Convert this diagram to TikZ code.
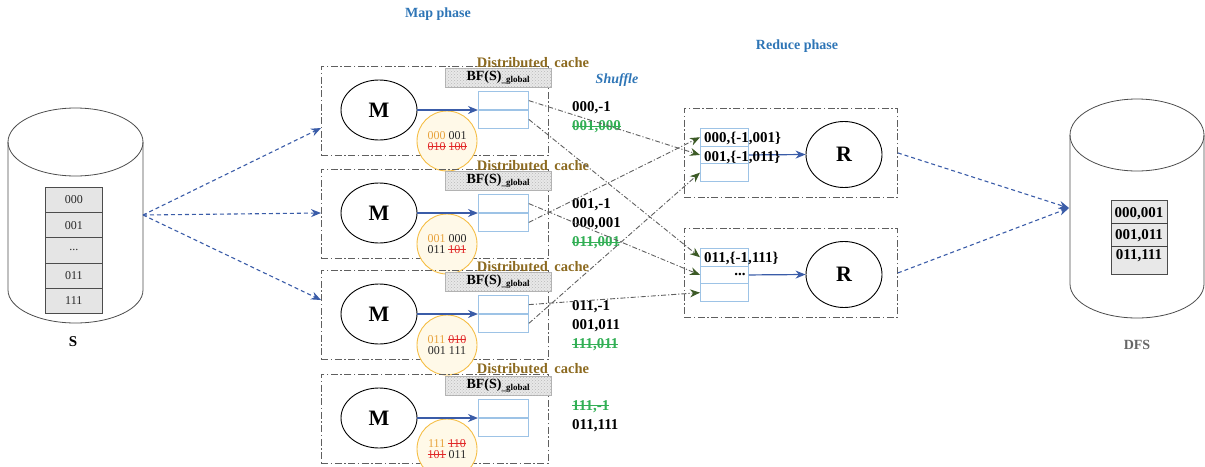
\documentclass[tikz,border=0pt]{standalone}
\usepackage{fontspec}
\setmainfont{Liberation Serif}
\usetikzlibrary{shapes.geometric,arrows.meta,patterns}

\definecolor{phaseblue}{RGB}{46,117,182}
\definecolor{cachebrown}{RGB}{140,106,32}
\definecolor{arrblue}{RGB}{58,92,168}
\definecolor{cellblue}{RGB}{157,195,230}
\definecolor{shgreen}{RGB}{60,90,38}
\definecolor{strkgreen}{RGB}{50,175,85}
\definecolor{strkred}{RGB}{225,40,40}
\definecolor{numorange}{RGB}{232,163,61}
\definecolor{circorange}{RGB}{245,190,70}
\definecolor{circfill}{RGB}{255,249,232}
\definecolor{boxgray}{RGB}{95,95,95}
\definecolor{darktxt}{RGB}{40,40,40}

\newsavebox\strkbox
\newcommand\mystrk[2]{{\color{#1}\sbox\strkbox{#2}\rlap{\raisebox{0.3em}{\rule{\wd\strkbox}{0.8pt}}}\usebox\strkbox}}
\newcommand\gstrk[1]{\mystrk{strkgreen}{#1}}
\newcommand\rstrk[1]{\mystrk{strkred}{#1}}
\newcommand\onum[1]{{\color{numorange}#1}}
\newcommand\bfsub{\raisebox{-2.5pt}{\fontsize{9}{9}\selectfont\_global}}

\begin{document}
\begin{tikzpicture}[x=1pt,y=-1pt,
  mapbox/.style={draw=boxgray, line width=0.9pt, dash pattern=on 7pt off 2.5pt on 1.5pt off 2.5pt, inner sep=0pt},
  mcirc/.style={ellipse, draw=black, line width=0.9pt, fill=white, minimum width=76pt, minimum height=60pt, inner sep=0pt, font=\fontsize{22}{22}\selectfont\bfseries},
  rcirc/.style={mcirc, minimum height=66pt},
  bfbox/.style={draw=gray!60, fill=gray!18, postaction={pattern=crosshatch dots, pattern color=gray!55}, minimum width=106pt, minimum height=19pt, inner sep=0pt, font=\fontsize{14}{14}\selectfont\bfseries},
  cachelbl/.style={text=cachebrown, font=\fontsize{14.5}{14.5}\selectfont\bfseries, inner sep=0pt},
  cell/.style={draw=cellblue, line width=0.8pt, minimum width=50pt, minimum height=18pt, inner sep=0pt},
  rcell/.style={cell, minimum width=48pt, minimum height=17.7pt},
  ocirc/.style={circle, draw=circorange, line width=0.9pt, fill=circfill, minimum size=60pt, inner sep=0pt, align=center, text=darktxt, font=\fontsize{12}{11}\selectfont},
  shtxt/.style={anchor=west, inner sep=0pt, font=\fontsize{15}{15}\selectfont\bfseries},
  redtxt/.style={anchor=west, inner sep=0pt, font=\fontsize{15}{15}\selectfont\bfseries},
  phase/.style={text=phaseblue, inner sep=0pt, font=\fontsize{14}{14}\selectfont\bfseries},
  scell/.style={draw=gray!60!black, fill=gray!20, line width=0.6pt, minimum width=57pt, minimum height=25.2pt, inner sep=0pt, font=\fontsize{12}{12}\selectfont, text=darktxt},
  marrow/.style={draw=arrblue, line width=1.2pt, -{Stealth[length=10pt,width=8pt]}},
  barrow/.style={draw=arrblue, line width=1.1pt, dash pattern=on 4pt off 3pt, -{Stealth[length=10pt,width=8pt]}},
  sharrow/.style={draw=gray!75!black, line width=0.9pt, dash pattern=on 5pt off 2pt on 1.2pt off 2pt, -{Stealth[length=10pt,width=8pt,color=shgreen,fill=shgreen]}},
  cyl/.style={draw=gray!60!black, line width=0.8pt}
]
\useasboundingbox (0,0) rectangle (1205,466);

% ---------- phase labels ----------
\node[phase] (mapph) at (438,14) {Map phase};
\node[phase] (redph) at (797,46) {Reduce phase};
\node[phase, font=\fontsize{14}{14}\selectfont\bfseries\itshape] (shuf) at (617,80) {Shuffle};

% ---------- S cylinder ----------
\draw[cyl] (8,142) -- (8,290) .. controls (8,308.2) and (38.22,323) .. (75.5,323) .. controls (112.78,323) and (143,308.2) .. (143,290) -- (143,142);
\draw[cyl] (75.5,142) ellipse [x radius=67.5, y radius=34];
\node[scell, anchor=north west] (s1) at (45,187) {000};
\node[scell, anchor=north west] (s2) at (45,212.2) {001};
\node[scell, anchor=north west] (s3) at (45,237.4) {...};
\node[scell, anchor=north west] (s4) at (45,262.6) {011};
\node[scell, anchor=north west] (s5) at (45,287.8) {111};
\node[inner sep=0pt, font=\fontsize{15}{15}\selectfont\bfseries] (slbl) at (73,342) {S};
\coordinate (sout) at (143,215);

% ---------- DFS cylinder ----------
\draw[cyl] (1070,135) -- (1070,284) .. controls (1070,302.8) and (1100,318) .. (1137,318) .. controls (1174,318) and (1204,302.8) .. (1204,284) -- (1204,135);
\draw[cyl] (1137,135) ellipse [x radius=67, y radius=36];
\node[draw=gray!60!black, fill=gray!18, line width=0.6pt, minimum width=56pt, minimum height=74pt, inner sep=0pt, anchor=north west] (dfst) at (1111,200) {};
\draw[gray!50!black, line width=0.7pt] (dfst.west |- 0,223) -- (dfst.east |- 0,223);
\draw[gray!50!black, line width=0.7pt] (dfst.west |- 0,246) -- (dfst.east |- 0,246);
\node[inner sep=0pt, font=\fontsize{15}{15}\selectfont\bfseries] (d1) at (1139,214) {000,001};
\node[inner sep=0pt, font=\fontsize{15}{15}\selectfont\bfseries] (d2) at (1139,236) {001,011};
\node[inner sep=0pt, font=\fontsize{15}{15}\selectfont\bfseries] (d3) at (1139,256) {011,111};
\node[inner sep=0pt, text=gray!80!black, font=\fontsize{14}{14}\selectfont\bfseries] (dfslbl) at (1137,345) {DFS};
\coordinate (dfsin) at (1069,208);

% ---------- Map boxes ----------
% box 1 (T=66)
\node[mapbox, minimum width=227pt, minimum height=89pt, anchor=north west] (mb1) at (321,66) {};
\node[bfbox] (bf1) at (498,77.5) {BF(S)\bfsub};
\node[mcirc] (m1) at (379,110) {M};
\node[cell, anchor=south west] (c1a) at (478,110) {};
\node[cell, anchor=north west] (c1b) at (478,110) {};
\node[ocirc] (o1) at (447,141) {\onum{000} 001\\\rstrk{010} \rstrk{100}};
\draw[marrow] (m1.east) -- (c1a.south west);
% box 2 (T=169)
\node[mapbox, minimum width=227pt, minimum height=89pt, anchor=north west] (mb2) at (321,169) {};
\node[bfbox] (bf2) at (498,180.5) {BF(S)\bfsub};
\node[mcirc] (m2) at (379,213) {M};
\node[cell, anchor=south west] (c2a) at (478,213) {};
\node[cell, anchor=north west] (c2b) at (478,213) {};
\node[ocirc] (o2) at (447,244) {\onum{001} 000\\011 \rstrk{101}};
\draw[marrow] (m2.east) -- (c2a.south west);
% box 3 (T=270)
\node[mapbox, minimum width=227pt, minimum height=89pt, anchor=north west] (mb3) at (321,270) {};
\node[bfbox] (bf3) at (498,281.5) {BF(S)\bfsub};
\node[mcirc] (m3) at (379,314) {M};
\node[cell, anchor=south west] (c3a) at (478,314) {};
\node[cell, anchor=north west] (c3b) at (478,314) {};
\node[ocirc] (o3) at (447,345) {\onum{011} \rstrk{010}\\001 111};
\draw[marrow] (m3.east) -- (c3a.south west);
% box 4 (T=374)
\node[mapbox, minimum width=227pt, minimum height=89pt, anchor=north west] (mb4) at (321,374) {};
\node[bfbox] (bf4) at (498,385.5) {BF(S)\bfsub};
\node[mcirc] (m4) at (379,418) {M};
\node[cell, anchor=south west] (c4a) at (478,418) {};
\node[cell, anchor=north west] (c4b) at (478,418) {};
\node[ocirc] (o4) at (447,449) {\onum{111} \rstrk{110}\\\rstrk{101} 011};
\draw[marrow] (m4.east) -- (c4a.south west);

% distributed cache labels
\node[cachelbl] (dc1) at (533,63) {Distributed\hspace{3pt} cache};
\node[cachelbl] (dc2) at (533,166) {Distributed\hspace{3pt} cache};
\node[cachelbl] (dc3) at (533,267) {Distributed\hspace{3pt} cache};
\node[cachelbl] (dc4) at (533,369) {Distributed\hspace{3pt} cache};

% ---------- shuffle texts ----------
\node[shtxt] (k11) at (572,108) {000,-1};
\node[shtxt] (k12) at (572,127) {\gstrk{001,000}};
\node[shtxt] (k21) at (572,205) {001,-1};
\node[shtxt] (k22) at (572,224) {000,001};
\node[shtxt] (k23) at (572,243) {\gstrk{011,001}};
\node[shtxt] (k31) at (572,307) {011,-1};
\node[shtxt] (k32) at (572,326) {001,011};
\node[shtxt] (k33) at (572,345) {\gstrk{111,011}};
\node[shtxt] (k41) at (572,407) {\gstrk{111,-1}};
\node[shtxt] (k42) at (572,426) {011,111};

% ---------- Reduce boxes ----------
\node[mapbox, minimum width=213pt, minimum height=89pt, anchor=north west] (rb1) at (684,108) {};
\node[rcell, anchor=north west] (r1a) at (700,128) {};
\node[rcell, anchor=north west] (r1b) at (700,145.7) {};
\node[rcell, anchor=north west] (r1c) at (700,163.4) {};
\node[rcirc] (R1) at (844,154.5) {R};
\draw[marrow] (r1b.east) -- (R1.west);
\node[redtxt] (t1a) at (704,138) {000,\{-1,001\}};
\node[redtxt] (t1b) at (704,157) {001,\{-1,011\}};

\node[mapbox, minimum width=213pt, minimum height=89pt, anchor=north west] (rb2) at (684,228) {};
\node[rcell, anchor=north west] (r2a) at (700,248) {};
\node[rcell, anchor=north west] (r2b) at (700,265.7) {};
\node[rcell, anchor=north west] (r2c) at (700,283.4) {};
\node[rcirc] (R2) at (844,274.5) {R};
\draw[marrow] (r2b.east) -- (R2.west);
\node[redtxt] (t2a) at (704,258) {011,\{-1,111\}};
\node[inner sep=0pt, font=\fontsize{15}{15}\selectfont\bfseries] (t2b) at (740,274) {...};

% ---------- shuffle connectors ----------
\draw[sharrow] (c1a.east) -- (r1b.west);
\draw[sharrow] (c1b.east) -- (r2a.west);
\draw[sharrow] (c2a.east) -- (r2b.west);
\draw[sharrow] (c2b.east) -- (r1a.west);
\draw[sharrow] (c3a.east) -- (r2c.west);
\draw[sharrow] (c3b.east) -- (r1c.west);

% ---------- input / output arrows ----------
\coordinate (in1) at (321,128);
\coordinate (in2) at (321,213);
\coordinate (in3) at (321,300);
\draw[barrow] (sout) -- (in1);
\draw[barrow] (sout) -- (in2);
\draw[barrow] (sout) -- (in3);
\draw[barrow] (rb1.east) -- (dfsin);
\draw[barrow] (rb2.east) -- (dfsin);
\end{tikzpicture}
\end{document}
